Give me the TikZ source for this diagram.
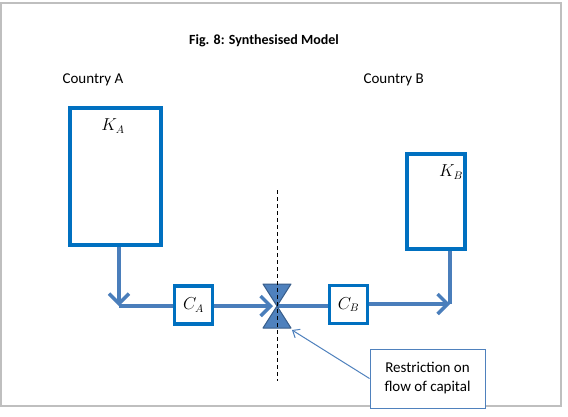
\documentclass[tikz,border=0pt]{standalone}
\usepackage{fontspec}
\setmainfont{Carlito}
\usetikzlibrary{arrows.meta}
\definecolor{boxblue}{HTML}{0070C0}
\definecolor{flowblue}{HTML}{4A7EBB}
\definecolor{valvefill}{HTML}{4F81BD}
\definecolor{valveedge}{HTML}{385D8A}
\definecolor{framegray}{HTML}{BFBFBF}
\tikzset{
  bigbox/.style={draw=boxblue, line width=4pt, fill=white, inner sep=0pt},
  smallbox/.style={draw=boxblue, line width=3.5pt, fill=white, minimum width=38pt, minimum height=38pt, inner sep=0pt, font=\fontsize{16}{18}\selectfont},
  mathlabel/.style={font=\fontsize{16}{18}\selectfont},
  flow/.style={draw=flowblue, line width=3.5pt},
  flowarrow/.style={flow, -{Straight Barb[length=10pt,width=20pt,line width=3.5pt]}},
  calloutbox/.style={draw=valvefill, line width=1pt, fill=white, align=center, font=\fontsize{15}{19}\selectfont, minimum width=115pt, minimum height=59pt},
  plain/.style={font=\fontsize{15}{18}\selectfont},
}
\begin{document}
\begin{tikzpicture}[x=1pt,y=-1pt]
\useasboundingbox (0,0) rectangle (568,416);
\fill[white] (0,0) rectangle (568,416);
\draw[framegray, line width=1.3pt] (1,3) rectangle (561,406);

\node[font=\fontsize{14}{17}\selectfont\bfseries] (title) at (264,41) {Fig. 8: Synthesised Model};
\node[plain, anchor=west] (cA) at (59,80) {Country A};
\node[plain, anchor=west] (cB) at (360,80) {Country B};

% big boxes
\node[bigbox, minimum width=91pt, minimum height=137pt] (ka) at (115.5,176.5) {};
\node[mathlabel] (kal) at (113,126) {$K_A$};
\node[bigbox, minimum width=58pt, minimum height=95pt] (kb) at (436,201.5) {};
\node[mathlabel] (kbl) at (451,172) {$K_B$};

% small boxes
\node[smallbox] (ca) at (193.5,305) {$C_A$};
\node[smallbox] (cb) at (348.5,304.5) {$C_B$};

% dashed border line
\coordinate (dtop) at (277,190);
\coordinate (dbot) at (277,381);

% valve
\coordinate (v) at (277,306);
\coordinate (cornerA) at (119,306);
\coordinate (cornerB) at (450,304);

% flows
\draw[flow] (cornerA) -- (ca.west |- cornerA);
\draw[flowarrow] (ka.south -| cornerA) -- (cornerA);
\draw[flowarrow] (ca.east |- v) -- ([xshift=-4pt]v);
\draw[flow] (v) -- (cb.west |- v);
\draw[flow] (kb.south -| cornerB) -- (cornerB);
\draw[flowarrow] (cb.east |- cornerB) -- (cornerB);

% valve shape
\draw[fill=valvefill, draw=valveedge, line width=1pt, line join=round]
  ([xshift=-14pt,yshift=-22pt]v) -- ([xshift=14pt,yshift=-22pt]v) -- (v) -- cycle;
\draw[fill=valvefill, draw=valveedge, line width=1pt, line join=round]
  ([xshift=-14pt,yshift=22pt]v) -- ([xshift=14pt,yshift=22pt]v) -- (v) -- cycle;

\draw[black, line width=1pt, dash pattern=on 4pt off 3pt] (dtop) -- (dbot);

% callout
\node[calloutbox] (rest) at (427.5,378.5) {Restriction on\\flow of capital};
\coordinate (rtip) at (292,330);
\draw[valvefill, line width=1pt, -{Straight Barb[length=6pt,width=10pt]}] (rest.west) -- (rtip);
\end{tikzpicture}
\end{document}
